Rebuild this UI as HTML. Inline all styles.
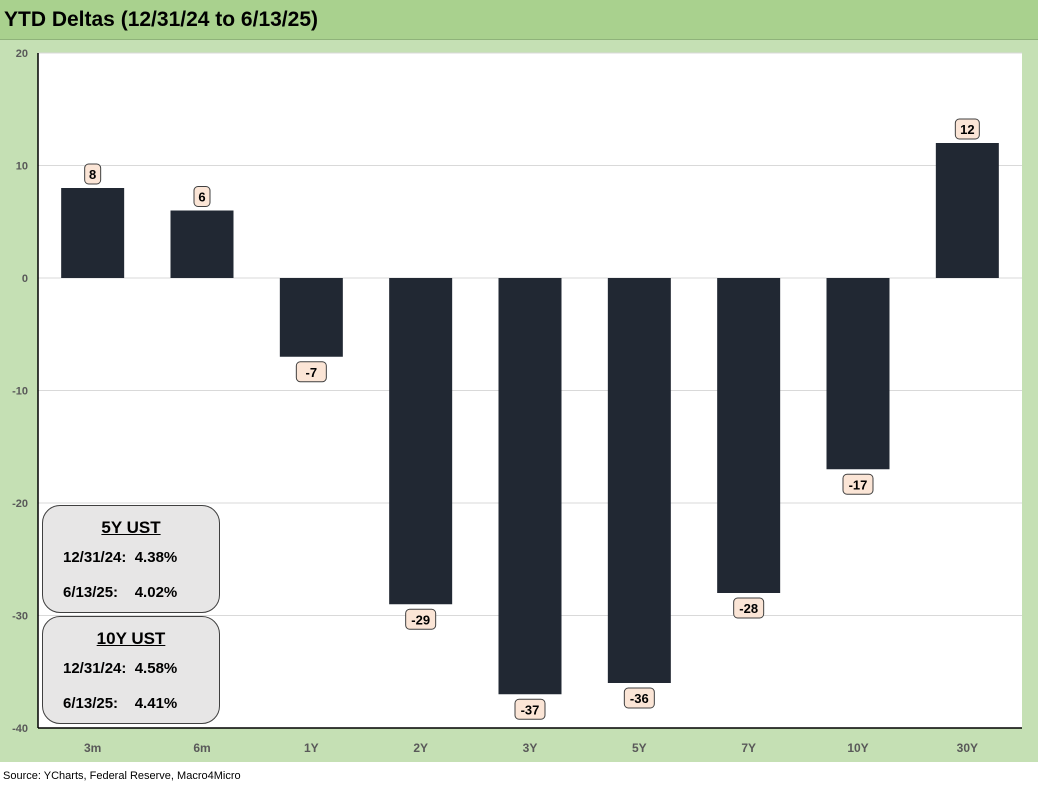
<!DOCTYPE html>
<html><head><meta charset="utf-8"><style>
body{margin:0;width:1038px;height:793px;overflow:hidden;background:#fff;font-family:"Liberation Sans",sans-serif}
#bg{position:absolute;left:0;top:0;width:1038px;height:762px;background:#c5e0b4}
#tb{position:absolute;left:0;top:0;width:1038px;height:39px;background:#a9d18e;border-bottom:1px solid #8fb37a}
#title{position:absolute;left:4px;top:8px;font-size:21px;font-weight:bold;color:#000}
#src{position:absolute;left:3px;top:770px;font-size:11px;color:#000}
.box{position:absolute;left:42px;width:176px;background:#e7e6e6;border:1px solid #404040;border-radius:18px;font-weight:bold;font-size:15px;color:#000}
.box .h{text-align:center;text-decoration:underline;font-size:17px;margin-top:12px}
.box .r{position:absolute;left:20px;white-space:pre}
</style></head><body>
<div id="bg"></div>
<div id="tb"><div id="title">YTD Deltas (12/31/24 to 6/13/25)</div></div>
<svg id="chart" width="1038" height="793" style="position:absolute;left:0;top:0"></svg>
<div class="box" style="top:505px;height:106px"><div class="h">5Y UST</div><div class="r" style="top:43px">12/31/24:  4.38%</div><div class="r" style="top:78px">6/13/25:    4.02%</div></div>
<div class="box" style="top:616px;height:106px"><div class="h">10Y UST</div><div class="r" style="top:43px">12/31/24:  4.58%</div><div class="r" style="top:78px">6/13/25:    4.41%</div></div>
<div id="src">Source: YCharts, Federal Reserve, Macro4Micro</div>
<script>
const categories=["3m","6m","1Y","2Y","3Y","5Y","7Y","10Y","30Y"];
const values=[8,6,-7,-29,-37,-36,-28,-17,12];
const yTicks=[20,10,0,-10,-20,-30,-40];
const svg=document.getElementById('chart');const NS="http://www.w3.org/2000/svg";
const L=38,R=1022,T=53,B=728,yMin=-40,yMax=20;
const y=v=>T+(yMax-v)/(yMax-yMin)*(B-T);
const step=(R-L)/categories.length;
const x=i=>L+step*(i+0.5);
function mk(t,a){const e=document.createElementNS(NS,t);for(const k in a)e.setAttribute(k,a[k]);svg.appendChild(e);return e;}
const pa=mk('rect',{x:L,y:T,width:R-L,height:B-T,fill:'#fff'});


yTicks.forEach(t=>{
 const g=mk('line',{x1:L,x2:R,y1:y(t),y2:y(t),stroke:'#d9d9d9','stroke-width':1});
 
 
 const tx=mk('text',{x:28,y:y(t)+4,'text-anchor':'end','font-size':11,'font-weight':'bold',fill:'#595959'});tx.textContent=t;
 
 
});
mk('line',{x1:L,x2:L,y1:T,y2:B,stroke:'#000','stroke-width':1.5});
mk('line',{x1:L,x2:R,y1:B,y2:B,stroke:'#000','stroke-width':1.5});
const bw=63;
categories.forEach((c,i)=>{
 const v=values[i];const y0=y(0),y1=y(v);
 const b=mk('rect',{x:x(i)-bw/2,y:Math.min(y0,y1),width:bw,height:Math.abs(y1-y0),fill:'#212833'});
 
 
 const lab=mk('text',{x:x(i),y:752,'text-anchor':'middle','font-size':12,'font-weight':'bold',fill:'#595959'});lab.textContent=c;
 
 
 const s=String(v);const w=s.length>1&&v<0?30:(s.length>1?24:16);
 const cy=v>=0?y1-14:y1+15;
 const r=mk('rect',{x:x(i)-w/2,y:cy-10,width:w,height:20,rx:4,fill:'#fbe5d6',stroke:'#404040','stroke-width':1});
 
 
 const t=mk('text',{x:x(i),y:cy+5,'text-anchor':'middle','font-size':13,'font-weight':'bold',fill:'#000'});t.textContent=s;
 
 
});
</script>
</body></html>
